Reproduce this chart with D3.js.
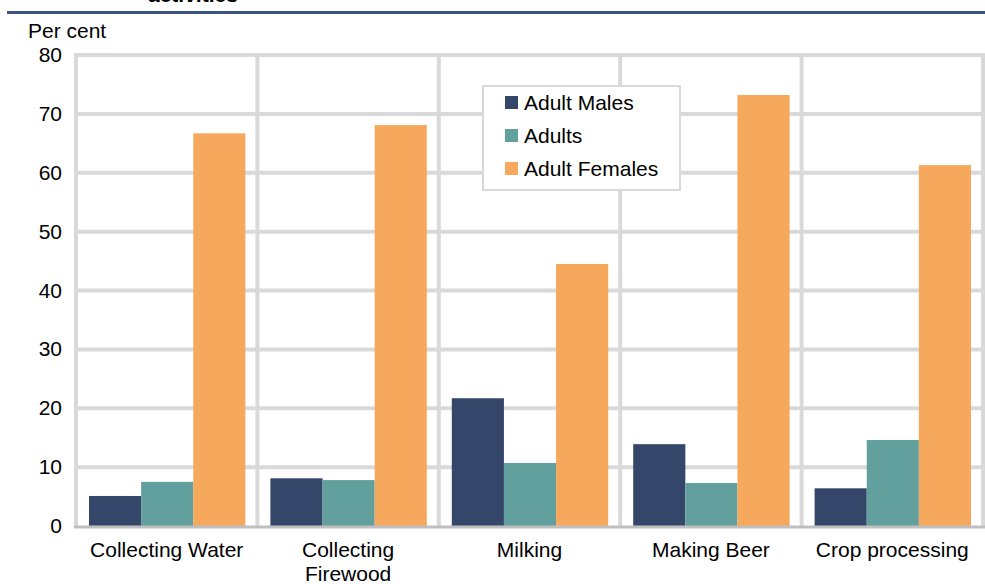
<!DOCTYPE html>
<html><head><meta charset="utf-8">
<script src="https://cdn.jsdelivr.net/npm/d3@7"></script>
<style>body{margin:0;background:#fff;}svg{display:block;font-family:Arial,"Liberation Sans",sans-serif;}</style>
</head><body>
<svg id="c" width="985" height="584"></svg>
<script>
const categories = [["Collecting Water"], ["Collecting", "Firewood"], ["Milking"], ["Making Beer"], ["Crop processing"]];
const seriesNames = ["Adult Males", "Adults", "Adult Females"];
const adultMales = [5.1, 8.1, 21.7, 13.9, 6.4];
const adults = [7.5, 7.8, 10.7, 7.3, 14.6];
const adultFemales = [66.7, 68.1, 44.5, 73.2, 61.3];
const yTicks = [0, 10, 20, 30, 40, 50, 60, 70, 80];
const colors = ["#34466a", "#62a09e", "#f6a95c"];

const svg = d3.select("#c");
const FS = 21;
const L = 76, R = 983, T = 55, B = 526;
const x = d3.scaleBand().domain(d3.range(categories.length)).range([L, R]).paddingInner(0).paddingOuter(0);
const y = d3.scaleLinear().domain([0, 80]).range([B, T]);
const inner = d3.scaleBand().domain(d3.range(3)).range([13, x.bandwidth() - 12]);

// title remnant and rule
svg.append("text").attr("x", 148).attr("y", 2).attr("font-weight", "bold").attr("font-size", FS).attr("fill", "#000").text("activities");
svg.append("rect").attr("x", 7).attr("y", 11).attr("width", 978).attr("height", 3).attr("fill", "#3d5480");

// grid
const g = svg.append("g");
g.selectAll(".h").data(yTicks.filter(d => d > 0)).join("line")
  .attr("x1", L).attr("x2", R).attr("y1", d => y(d)).attr("y2", d => y(d))
  .attr("stroke", "#d9d9d9").attr("stroke-width", 4);
g.selectAll(".v").data(d3.range(categories.length + 1)).join("line")
  .attr("x1", d => d < categories.length ? x(d) : R).attr("x2", d => d < categories.length ? x(d) : R)
  .attr("y1", T - 2).attr("y2", B)
  .attr("stroke", "#d9d9d9").attr("stroke-width", 4);

// bars
const series = [adultMales, adults, adultFemales];
series.forEach((vals, si) => {
  svg.append("g").selectAll("rect").data(vals).join("rect")
    .attr("x", (d, i) => x(i) + inner(si))
    .attr("width", inner.bandwidth())
    .attr("y", d => y(d))
    .attr("height", d => B - y(d))
    .attr("fill", colors[si]);
});

// baseline
svg.append("line").attr("x1", L - 2).attr("x2", R + 2).attr("y1", B + 1).attr("y2", B + 1)
  .attr("stroke", "#bfbfbf").attr("stroke-width", 3);

// y axis labels
svg.append("g").selectAll("text").data(yTicks).join("text")
  .attr("x", 62).attr("y", d => y(d) + 7).attr("text-anchor", "end")
  .attr("font-size", FS).attr("fill", "#000").text(d => d);
svg.append("text").attr("x", 28).attr("y", 38).attr("font-size", FS).attr("fill", "#000").text("Per cent");

// x labels
svg.append("g").selectAll("text").data(categories).join("text")
  .attr("x", (d, i) => x(i) + x.bandwidth() / 2).attr("y", 557)
  .attr("text-anchor", "middle").attr("font-size", FS).attr("fill", "#000")
  .each(function(d) {
    d3.select(this).selectAll("tspan").data(d).join("tspan")
      .attr("x", d3.select(this).attr("x")).attr("dy", (t, j) => j === 0 ? 0 : 24).text(t => t);
  });

// legend
const lg = svg.append("g");
lg.append("rect").attr("x", 483).attr("y", 86).attr("width", 197).attr("height", 104)
  .attr("fill", "#fff").attr("stroke", "#d9d9d9").attr("stroke-width", 2);
seriesNames.forEach((n, i) => {
  lg.append("rect").attr("x", 505).attr("y", 96 + i * 33).attr("width", 13).attr("height", 13).attr("fill", colors[i]);
  lg.append("text").attr("x", 524).attr("y", 110 + i * 33).attr("font-size", FS).attr("fill", "#000").text(n);
});
</script>
</body></html>
